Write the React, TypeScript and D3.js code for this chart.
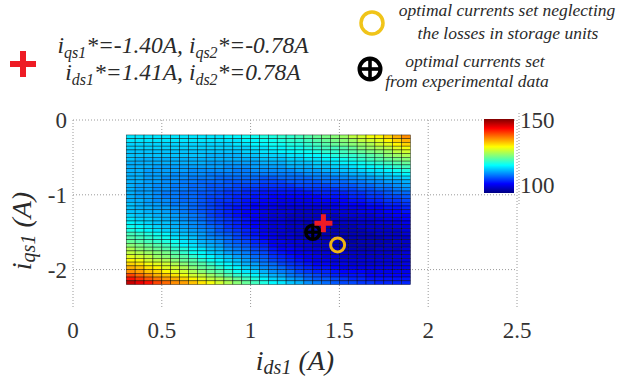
import React from "react";
import * as d3 from "d3";

// ---------- data ----------
const xTicks = [0, 0.5, 1, 1.5, 2, 2.5];
const xTickLabels = ["0", "0.5", "1", "1.5", "2", "2.5"];
const yTicks = [0, -1, -2];
const yTickLabels = ["0", "-1", "-2"];
const colorTicks = [100, 150];
const colorDomain = [94, 151];

// mesh: i_ds1 from 0.3 step 0.05 (32 cols), i_qs1 from -0.2 step -0.05 (40 rows)
const idsStart = 0.3;
const iqsStart = -0.2;
const gridStep = 0.05;

// losses (W), row 0 = i_qs1 -0.2 (top), col 0 = i_ds1 0.3
const lossGrid: number[][] = [
  [114,114,114,114,114,114,114,114,114,114,114,115,115,116,116,117,117,118,118,119,120,121,122,123,124,126,127,129,130,132,134,136],
  [114,114,114,114,114,114,114,114,114,114,114,114,114,115,115,116,116,117,118,118,119,120,121,122,123,124,126,127,128,130,132,134],
  [113,113,113,113,113,113,113,113,113,113,113,113,114,114,115,115,116,116,117,117,118,119,120,121,122,123,124,125,127,128,130,132],
  [113,113,113,113,113,113,113,113,113,113,113,113,113,113,114,114,115,115,116,116,117,118,119,119,120,121,123,124,125,126,128,129],
  [112,112,112,112,112,112,112,112,112,112,112,112,112,113,113,114,114,115,115,116,116,117,118,118,119,120,121,122,123,124,126,127],
  [112,112,112,112,112,112,112,112,112,111,111,111,111,112,112,113,113,113,114,114,115,115,116,117,118,118,119,120,121,123,124,125],
  [112,111,111,111,111,111,111,111,111,111,111,111,111,111,111,112,112,112,113,113,114,114,115,115,116,117,118,119,120,121,122,123],
  [111,111,111,111,111,111,111,111,111,110,110,110,110,110,110,111,111,111,112,112,112,113,113,114,115,115,116,117,118,119,120,121],
  [111,111,111,110,110,110,110,110,110,110,110,109,109,109,110,110,110,110,111,111,111,112,112,113,113,114,115,115,116,117,118,119],
  [111,111,110,110,110,110,110,109,109,109,109,109,108,108,109,109,109,109,109,110,110,110,111,111,112,112,113,114,114,115,116,117],
  [111,111,110,110,110,109,109,109,109,108,108,108,108,108,108,108,108,108,108,108,109,109,109,110,110,111,111,112,113,113,114,115],
  [111,111,110,110,109,109,109,108,108,108,107,107,107,107,107,106,106,107,107,107,107,108,108,108,109,109,110,110,111,112,112,113],
  [111,111,110,110,109,109,108,108,107,107,107,106,106,106,106,105,105,105,106,106,106,106,107,107,107,108,108,109,109,110,110,111],
  [111,110,110,109,109,108,108,107,107,106,106,106,105,105,105,104,104,104,104,105,105,105,105,106,106,106,107,107,108,108,109,110],
  [111,110,110,109,109,108,108,107,107,106,106,105,105,104,104,103,103,103,103,103,104,104,104,104,105,105,106,106,107,107,108,109],
  [111,110,110,109,108,108,107,107,106,106,105,104,104,103,103,102,102,102,102,102,102,103,103,103,103,104,104,105,105,106,107,107],
  [111,110,110,109,108,108,107,107,106,105,105,104,103,103,102,102,101,101,101,101,101,101,102,102,102,103,103,104,104,105,105,106],
  [111,111,110,109,109,108,107,107,106,105,104,104,103,102,102,101,101,100,100,100,100,101,101,101,101,102,102,103,103,104,104,105],
  [112,111,110,110,109,108,108,107,106,105,104,103,103,102,101,101,100,100,100,100,100,100,100,100,101,101,101,102,102,103,103,104],
  [112,111,111,110,110,109,108,107,106,105,104,103,102,102,101,100,100,99,99,99,99,99,99,100,100,100,100,101,101,102,102,103],
  [112,112,111,111,110,109,108,107,106,105,104,103,102,101,101,100,99,99,99,98,98,98,99,99,99,99,100,100,100,101,101,102],
  [113,112,112,111,111,110,109,108,107,105,104,103,102,101,101,100,99,99,98,98,98,98,98,98,99,99,99,99,100,100,101,101],
  [114,113,113,112,111,110,109,108,107,106,105,104,103,102,101,100,99,99,98,98,98,98,98,98,98,98,99,99,99,100,100,101],
  [115,114,113,112,112,111,110,109,108,106,105,104,103,102,101,100,99,99,98,98,97,97,97,97,98,98,98,98,99,99,99,100],
  [116,115,114,113,112,111,110,109,108,107,106,104,103,102,101,100,99,99,98,98,97,97,97,97,97,97,98,98,98,98,99,99],
  [117,116,115,114,113,112,111,110,109,108,106,105,104,103,102,100,99,99,98,98,97,97,97,97,97,97,97,98,98,98,98,99],
  [119,118,117,116,115,113,112,111,110,108,107,106,105,103,102,101,100,99,99,98,98,97,97,97,97,97,97,97,98,98,98,99],
  [120,119,118,117,116,114,113,112,110,109,108,107,105,104,103,101,100,99,99,98,98,97,97,97,96,97,97,97,97,98,98,98],
  [121,120,119,118,117,116,114,113,111,110,109,107,106,105,103,102,100,100,99,99,98,98,97,97,96,96,97,97,97,97,98,98],
  [123,122,121,120,119,117,115,114,112,111,110,108,107,106,104,103,101,100,100,99,99,98,98,97,97,97,97,97,97,98,98,98],
  [125,123,122,121,120,118,117,115,114,112,111,109,108,107,105,104,102,101,101,100,99,99,98,98,97,97,97,97,98,98,98,99],
  [126,125,124,123,122,120,118,116,115,113,112,110,109,108,106,105,103,102,101,100,100,99,99,98,98,98,98,98,98,98,98,99],
  [128,127,126,124,123,121,120,118,116,115,113,112,110,109,107,106,104,103,102,101,100,100,99,99,98,98,98,98,98,98,99,99],
  [130,129,127,126,125,123,121,120,118,116,115,113,112,110,108,107,105,104,103,102,101,100,100,99,99,99,99,99,99,99,99,99],
  [132,131,129,128,127,125,123,121,120,118,116,115,113,111,110,108,107,105,104,103,102,101,101,100,100,99,99,99,99,99,99,100],
  [134,133,131,130,128,127,125,123,121,120,118,116,115,113,111,109,108,107,105,104,103,102,102,101,100,100,100,100,100,100,100,100],
  [136,135,133,132,130,128,127,125,123,121,120,118,116,114,113,111,109,108,107,105,104,103,103,102,101,101,101,100,100,100,100,100],
  [140,138,136,134,133,131,129,127,126,124,122,120,118,117,115,113,111,110,108,107,106,105,104,103,102,102,102,101,101,101,101,101],
  [143,141,139,137,135,134,132,130,128,126,125,123,121,119,117,115,113,112,110,109,107,106,106,105,104,103,103,102,102,102,102,102],
  [147,145,143,140,138,136,135,133,131,129,127,125,123,121,119,117,115,114,112,111,109,108,107,106,105,105,104,104,103,103,103,103],
];

// markers (i_ds1, i_qs1)
const modelOptimum = [1.41, -1.38];
const experimentalOptimum = [1.35, -1.5];
const noStorageOptimum = [1.49, -1.67];

// legend texts
const modelLine1 = [["i", "qs1", "*=-1.40A, "], ["i", "qs2", "*=-0.78A"]];
const modelLine2 = [["i", "ds1", "*=1.41A, "], ["i", "ds2", "*=0.78A"]];
const noStorageText = ["optimal currents set neglecting", "the losses in storage units"];
const experimentalText = ["optimal currents set", "from experimental data"];

// ---------- helpers ----------
const clamp = (v: number) => Math.max(0, Math.min(1, v));
function jet(t: number) {
  const tt = clamp(t);
  const r = clamp(1.5 - Math.abs(4 * tt - 3));
  const g = clamp(1.5 - Math.abs(4 * tt - 2));
  const b = clamp(1.5 - Math.abs(4 * tt - 1));
  return d3.rgb(r * 255, g * 255, b * 255).formatHex();
}

const SERIF = "Liberation Serif";

export default function App() {
  const W = 617, H = 379;
  const x = d3.scaleLinear().domain([0, 2.5]).range([73, 517]);
  const y = d3.scaleLinear().domain([-2.5, 0]).range([307, 120]);
  const tScale = d3.scaleLinear().domain(colorDomain).range([0, 1]);
  const color = (v: number) => jet(tScale(v));
  const cb = d3.scaleLinear().domain(colorDomain).range([193, 119]);

  const cells: React.ReactElement[] = [];
  lossGrid.forEach((row, j) => {
    row.forEach((v, k) => {
      const x0 = x(idsStart + k * gridStep);
      const x1 = x(idsStart + (k + 1) * gridStep);
      const y0 = y(iqsStart - j * gridStep);
      const y1 = y(iqsStart - (j + 1) * gridStep);
      cells.push(
        <rect key={`${j}-${k}`} x={x0} y={y0} width={x1 - x0} height={y1 - y0}
          fill={color(v)} stroke="#000" strokeWidth={0.6} strokeOpacity={0.7} />
      );
    });
  });

  const gradStops = d3.range(0, 1.0001, 1 / 32);

  const subLine = (parts: string[][], cx: number, by: number, fs: number) => (
    <text x={cx} y={by} textAnchor="middle" fontFamily={SERIF} fontStyle="italic" fontSize={fs} fill="#2a2a2a">
      {parts.map((p, i) => (
        <React.Fragment key={i}>
          <tspan>{p[0]}</tspan>
          <tspan fontSize={fs * 0.68} dy={5}>{p[1]}</tspan>
          <tspan dy={-5}>{p[2]}</tspan>
        </React.Fragment>
      ))}
    </text>
  );

  const plus = (cx: number, cy: number, half: number, sw: number, col: string) => (
    <g stroke={col} strokeWidth={sw}>
      <line x1={cx - half} x2={cx + half} y1={cy} y2={cy} />
      <line x1={cx} x2={cx} y1={cy - half} y2={cy + half} />
    </g>
  );
  const oplus = (cx: number, cy: number, r: number, sw: number) => (
    <g stroke="#000" fill="none">
      <circle cx={cx} cy={cy} r={r} strokeWidth={sw} />
      <line x1={cx - r} x2={cx + r} y1={cy} y2={cy} strokeWidth={sw * 0.9} />
      <line x1={cx} x2={cx} y1={cy - r} y2={cy + r} strokeWidth={sw * 0.9} />
    </g>
  );

  const gridCol = "#9a9a9a";

  return (
    <svg width={W} height={H} style={{ position: "absolute", left: 0, top: 0, background: "#fff" }}>
      <defs>
        <linearGradient id="jetbar" x1="0" y1="1" x2="0" y2="0">
          {gradStops.map((t, i) => (
            <stop key={i} offset={t} stopColor={jet(t)} />
          ))}
        </linearGradient>
      </defs>

      {/* grid / frame */}
      <g stroke={gridCol} strokeWidth={1} strokeDasharray="1,2">
        {xTicks.map((t) => (
          <line key={"gx" + t} x1={x(t)} x2={x(t)} y1={y(0)} y2={y(-2.5)} />
        ))}
        {yTicks.map((t) => (
          <line key={"gy" + t} x1={x(0)} x2={x(2.5)} y1={y(t)} y2={y(t)} />
        ))}
      </g>

      {/* heatmap */}
      <g>{cells}</g>

      {/* markers */}
      {oplus(x(experimentalOptimum[0]), y(experimentalOptimum[1]), 7, 3.5)}
      {plus(x(modelOptimum[0]), y(modelOptimum[1]), 9, 5, "#ee1c25")}
      <circle cx={x(noStorageOptimum[0])} cy={y(noStorageOptimum[1])} r={7} fill="none" stroke="#f0b514" strokeWidth={3} />

      {/* tick labels */}
      <g fontFamily={SERIF} fontSize={23} fill="#333">
        {xTicks.map((t, i) => (
          <text key={"xt" + t} x={x(t)} y={338} textAnchor="middle">{xTickLabels[i]}</text>
        ))}
        {yTicks.map((t, i) => (
          <text key={"yt" + t} x={67} y={y(t) + 8} textAnchor="end">{yTickLabels[i]}</text>
        ))}
      </g>

      {/* axis labels */}
      <text x={295} y={370} textAnchor="middle" fontFamily={SERIF} fontStyle="italic" fontSize={28} fill="#2a2a2a">
        <tspan>i</tspan>
        <tspan fontSize={20} dy={4}>ds1</tspan>
        <tspan dy={-4}> (A)</tspan>
      </text>
      <text transform={`translate(31,231) rotate(-90)`} textAnchor="middle" fontFamily={SERIF} fontStyle="italic" fontSize={28} fill="#2a2a2a">
        <tspan>i</tspan>
        <tspan fontSize={20} dy={4}>qs1</tspan>
        <tspan dy={-4}> (A)</tspan>
      </text>

      {/* colorbar */}
      <line x1={519} x2={519} y1={113} y2={205} stroke={gridCol} strokeDasharray="1,2" />
      <rect x={484} y={cb(colorDomain[1])} width={30} height={cb(colorDomain[0]) - cb(colorDomain[1])} fill="url(#jetbar)" />
      <g fontFamily={SERIF} fontSize={23} fill="#333">
        {colorTicks.map((t) => (
          <text key={"ct" + t} x={520} y={cb(t) + 8}>{t}</text>
        ))}
      </g>

      {/* legend: model optimum */}
      {plus(23, 64, 13, 6, "#ee1c25")}
      {subLine(modelLine1, 183, 53, 23.5)}
      {subLine(modelLine2, 183, 80, 23.5)}

      {/* legend right */}
      <circle cx={372} cy={23} r={11} fill="none" stroke="#f0c419" strokeWidth={3.5} />
      {oplus(370, 69, 10.5, 4)}
      <g fontFamily={SERIF} fontStyle="italic" fontSize={17.5} fill="#2a2a2a" textAnchor="middle">
        <text x={507} y={16}>{noStorageText[0]}</text>
        <text x={508} y={39}>{noStorageText[1]}</text>
        <text x={475} y={67}>{experimentalText[0]}</text>
        <text x={467} y={87}>{experimentalText[1]}</text>
      </g>
    </svg>
  );
}
